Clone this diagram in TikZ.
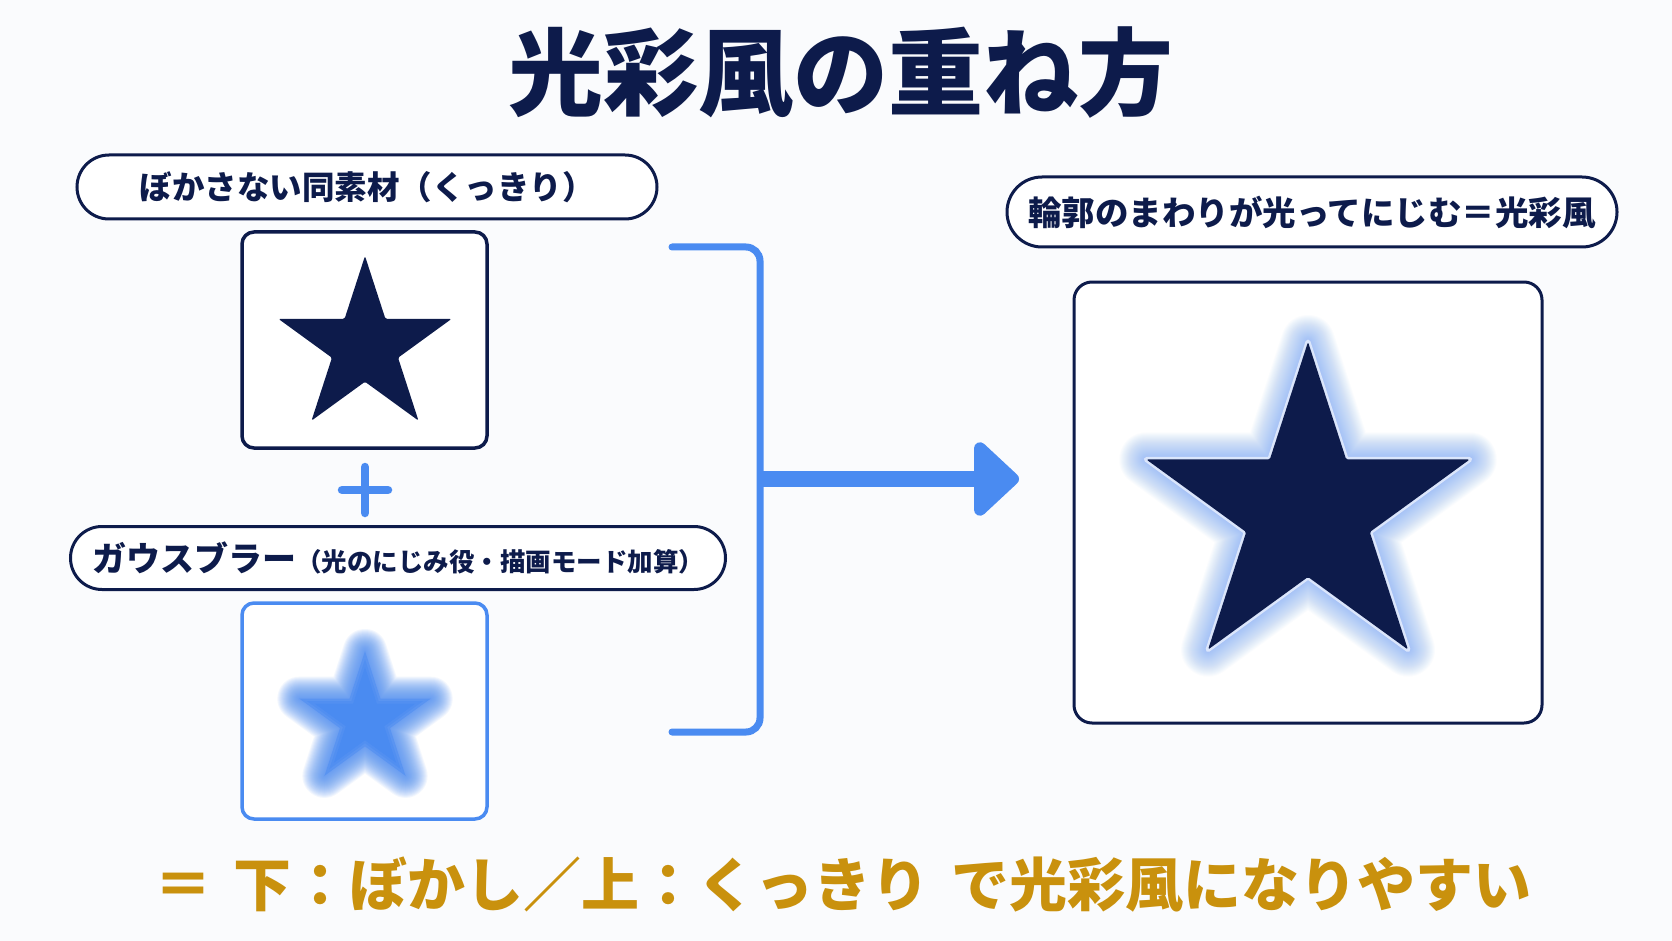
\documentclass[tikz,border=0pt]{standalone}
\usepackage{fontspec}
\newfontfamily\jp{Noto Sans CJK JP}
\usetikzlibrary{arrows.meta}
\definecolor{navy}{HTML}{0D1B4B}
\definecolor{brandblue}{HTML}{4A8BF1}
\definecolor{gold}{HTML}{C9910D}
\definecolor{bgc}{HTML}{FAFBFD}
\definecolor{glowc}{HTML}{6FA2F6}
\newcommand\starpts[1]{(-90:#1) -- (-54:#1*0.382) -- (-18:#1) -- (18:#1*0.382) -- (54:#1) -- (90:#1*0.382) -- (126:#1) -- (162:#1*0.382) -- (198:#1) -- (234:#1*0.382) -- cycle}
\begin{document}
\begin{tikzpicture}[x=1pt,y=-1pt,
  pill/.style={draw=navy, line width=3, fill=white, inner sep=0, text=navy},
  framebox/.style={line width=3.5, fill=white, rounded corners=12, inner sep=0},
  bracketline/.style={draw=brandblue, line width=7, line cap=round, rounded corners=14},
  starbody/.style={rounded corners=1.5, line join=round}]
\fill[bgc] (0,0) rectangle (1672,941);
\useasboundingbox (0,0) rectangle (1672,941);

% title
\node[font=\jp\bfseries\fontsize{95}{95}\selectfont, text=navy] (title) at (841,73) {光彩風の重ね方};

% left column
\node[pill, minimum width=580, minimum height=64, rounded corners=32,
  font=\jp\bfseries\fontsize{32.5}{32.5}\selectfont] (p1) at (367,187) {ぼかさない同素材（くっきり）};
\node[framebox, draw=navy, minimum width=245, minimum height=216] (b1) at (364.5,340) {};
\begin{scope}[shift={(365,347)}]
  \fill[navy, starbody] \starpts{91};
\end{scope}

\draw[brandblue, line width=8.5, line cap=round] (365,467) -- (365,513) (342,490) -- (388,490);

\node[pill, minimum width=655, minimum height=63, rounded corners=31.5] (p2) at (398,558)
  {{\jp\bfseries\fontsize{34}{34}\selectfont ガウスブラー}{\jp\bfseries\fontsize{25.5}{25.5}\selectfont （光のにじみ役・描画モード加算）}};
\node[framebox, draw=brandblue, minimum width=245, minimum height=216] (b2) at (364.5,711) {};
\begin{scope}[shift={(365,720)}]
  \foreach \w in {2,4,...,44} {
    \draw[brandblue, opacity=0.065, line width=\w, line join=round] \starpts{69};
  }
  \fill[brandblue, opacity=0.55, line join=round] \starpts{69};
  \fill[brandblue, opacity=0.6, line join=round] \starpts{61};
  \fill[brandblue, line join=round] \starpts{53};
\end{scope}

% bracket and arrow
\coordinate (bt) at (672,247);
\coordinate (bb) at (672,732);
\coordinate (j) at (760,479);
\coordinate (tip) at (1019,479);
\draw[bracketline] (bt) -- (760,247) -- (760,732) -- (bb);
\draw[brandblue, line width=16, -{Triangle[length=48pt,width=86pt,round]}] (j) -- (tip);

% right column
\node[pill, minimum width=610, minimum height=70, rounded corners=35,
  font=\jp\bfseries\fontsize{33.5}{33.5}\selectfont] (p3) at (1312,212) {輪郭のまわりが光ってにじむ＝光彩風};
\node[framebox, draw=navy, line width=3, rounded corners=18, minimum width=468, minimum height=441] (b3) at (1308,502.5) {};
\begin{scope}[shift={(1308,512)}]
  \foreach \w in {2,4,...,54} {
    \draw[glowc, opacity=0.032, line width=\w, line join=round] \starpts{170};
  }
  \draw[white, opacity=0.6, line width=5, line join=round] \starpts{170};
  \fill[navy, starbody] \starpts{170};
\end{scope}

% bottom note
\node[text=gold, font=\jp\bfseries\fontsize{58}{58}\selectfont] (note) at (843,885)
  {＝\hspace{22pt}下：ぼかし／上：くっきり\hspace{22pt}で光彩風になりやすい};
\end{tikzpicture}
\end{document}
